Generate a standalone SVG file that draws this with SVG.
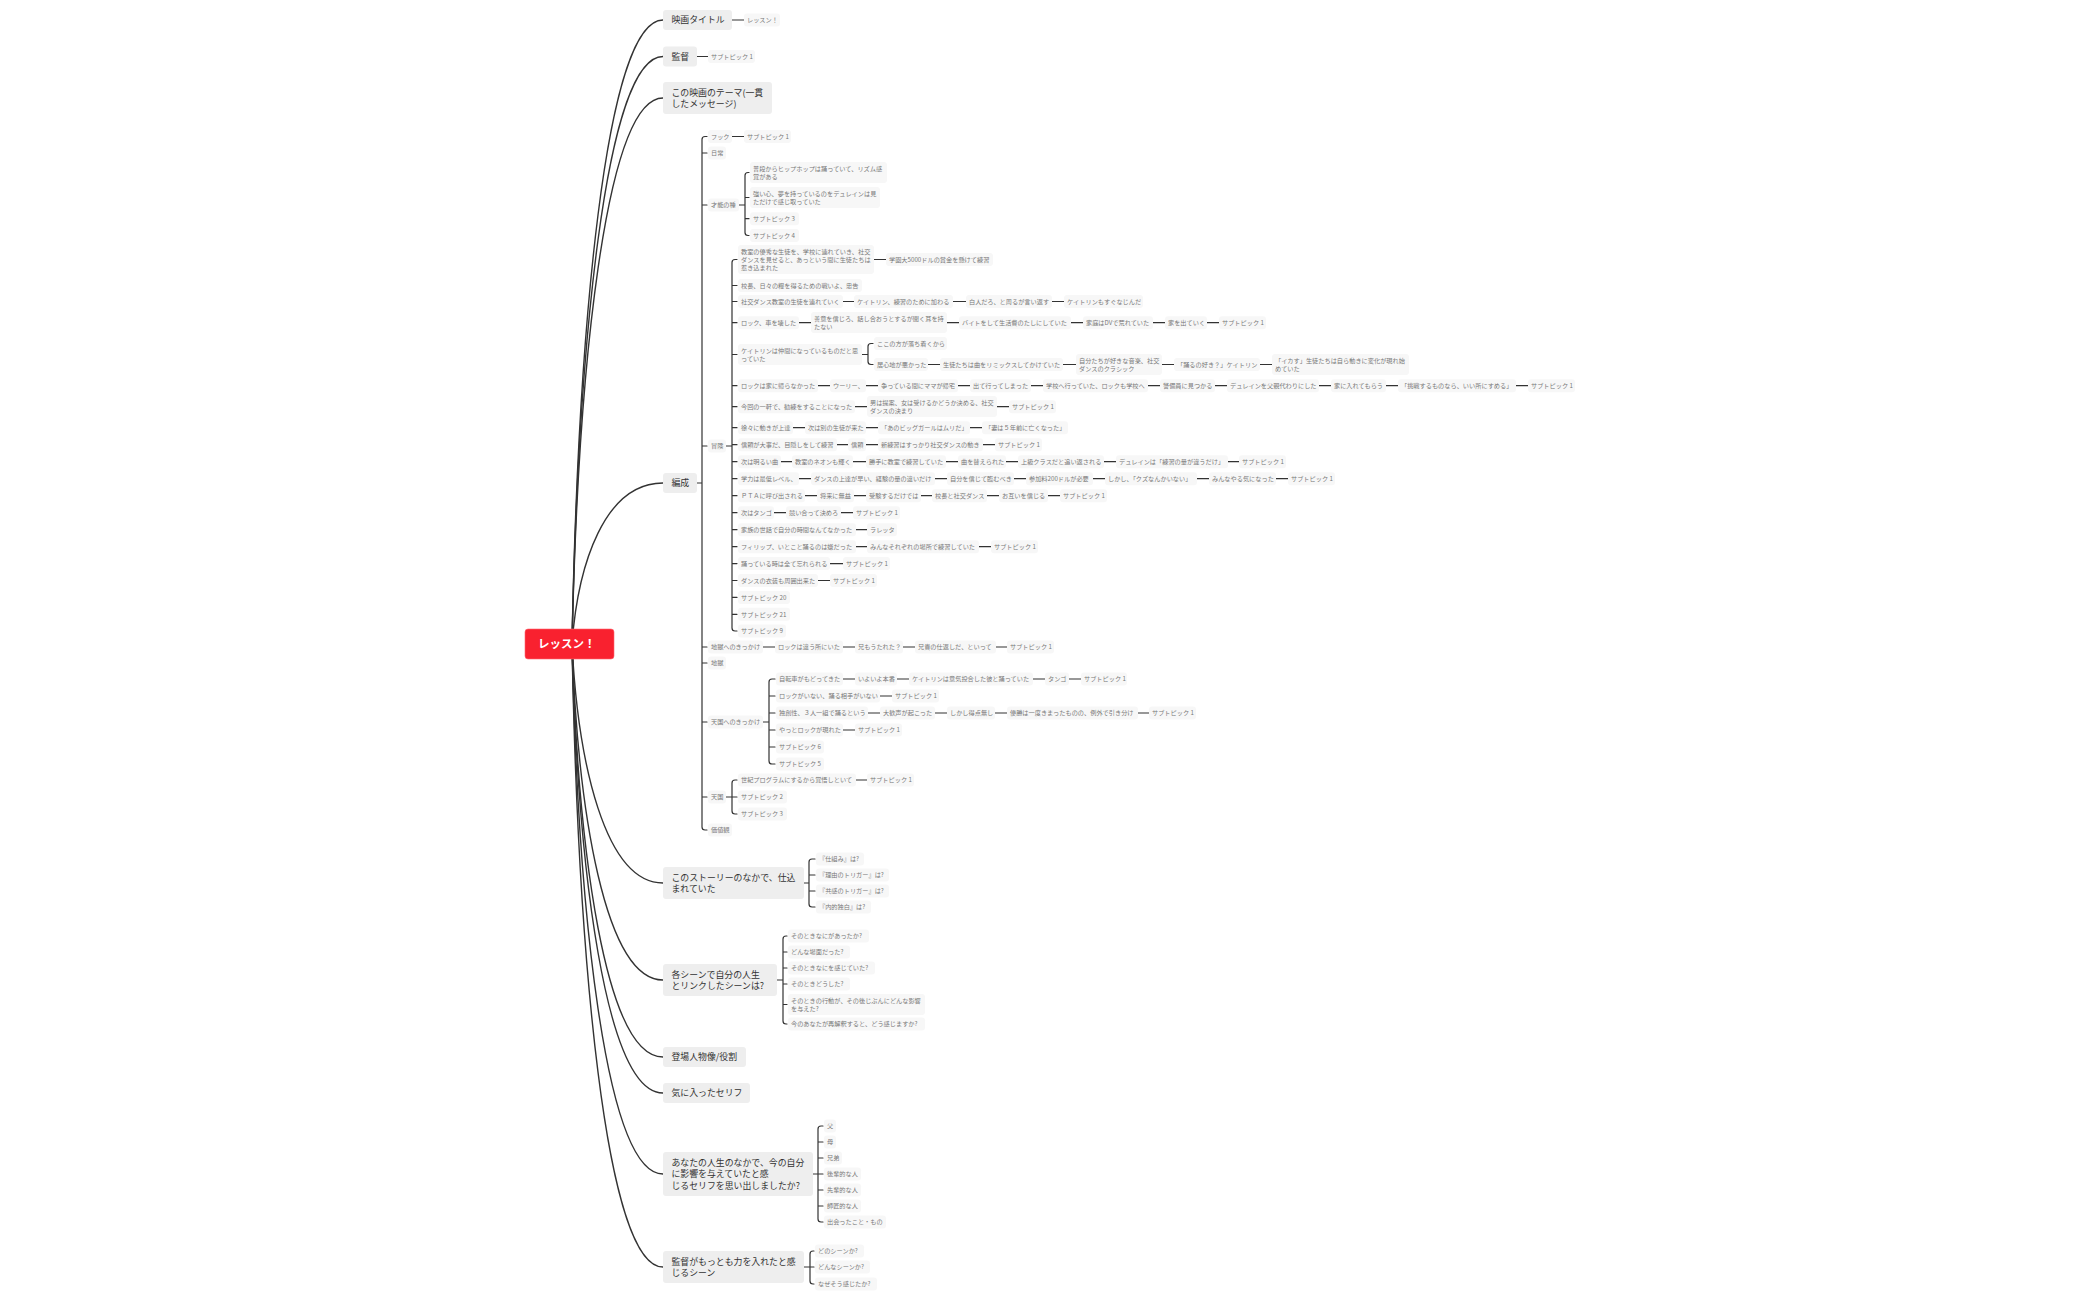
<svg xmlns="http://www.w3.org/2000/svg" width="2100" height="1300" viewBox="0 0 2100 1300">
<style>
text{font-family:"Noto Sans CJK JP","Noto Sans",sans-serif}
.c rect{fill:#f7f7f7}
.c text{font-size:6.2px;fill:#777}
.m rect{fill:#eeeeee}
.m text{font-size:8.9px;fill:#333}
#connectors path{fill:none;stroke:#333;stroke-width:1.2;stroke-linecap:round}
#connectors .t{stroke-width:1.4}
</style>
<rect width="2100" height="1300" fill="#ffffff"/>
<g id="connectors">
<path class="t" d="M572 644C578 332 605 20 663 20"/>
<path class="t" d="M572 644C578 350 605 56.500 663 56.500"/>
<path class="t" d="M572 644C578 371 605 98 663 98"/>
<path class="t" d="M572 644C578 563 605 483 663 483"/>
<path class="t" d="M572 644C578 763 605 883 663 883"/>
<path class="t" d="M572 644C578 812 605 980 663 980"/>
<path class="t" d="M572 644C578 850 605 1057 663 1057"/>
<path class="t" d="M572 644C578 868 605 1093 663 1093"/>
<path class="t" d="M572 644C578 909 605 1174 663 1174"/>
<path class="t" d="M572 644C578 955 605 1267 663 1267"/>
<path d="M732 20H744M697 56.500H708M732 136.500H744"/>
<path d="M697 483H702M707 136.500H705Q702 136.500 702 139.500V827Q702 830 705 830H707M702 153H707M702 205H707M702 446H707M702 647H707M702 663H707M702 722H707M702 797H707"/>
<path d="M739 205H745M749 172.500H748Q745 172.500 745 175.500V232.500Q745 235.500 748 235.500H749M745 197.500H749M745 218.700H749"/>
<path d="M726 446H732M737 259.500H735Q732 259.500 732 262.500V628Q732 631 735 631H737M732 285.500H737M732 301.500H737M732 322.700H737M732 354.500H737M732 385.700H737M732 406.700H737M732 427.700H737M732 444.700H737M732 461.700H737M732 478.700H737M732 495.700H737M732 512.700H737M732 529.700H737M732 546.700H737M732 563.600H737M732 580.500H737M732 597.400H737M732 614.300H737"/>
<path d="M874 259.500H886"/>
<path d="M843 301.500H854M953 301.500H966M1052 301.500H1064"/>
<path d="M799 322.700H811M947 322.700H959M1071 322.700H1083M1153 322.700H1165M1207 322.700H1219"/>
<path d="M862 354.500H868M873 343.500H871Q868 343.500 868 346.500V361.500Q868 364.500 871 364.500H873"/>
<path d="M928 364.500H940M1063 364.500H1076M1162 364.500H1174M1260 364.500H1272"/>
<path d="M818 385.700H830M866 385.700H878M958 385.700H970M1031 385.700H1043M1148 385.700H1160M1215 385.700H1227M1319 385.700H1331M1386 385.700H1398M1516 385.700H1528"/>
<path d="M855 406.700H867M997 406.700H1009"/>
<path d="M793 427.700H805M866 427.700H878M970 427.700H982"/>
<path d="M837 444.700H848M866 444.700H878M983 444.700H995"/>
<path d="M781 461.700H792M853 461.700H866M946 461.700H958M1006 461.700H1018M1104 461.700H1116M1228 461.700H1239"/>
<path d="M799 478.700H811M935 478.700H947M1014 478.700H1026M1093 478.700H1105M1197 478.700H1209M1276 478.700H1288"/>
<path d="M805 495.700H817M854 495.700H866M921 495.700H932M987 495.700H999M1048 495.700H1060"/>
<path d="M774 512.700H786M841 512.700H853"/>
<path d="M856 529.700H867"/>
<path d="M856 546.700H867M979 546.700H991"/>
<path d="M830 563.600H843"/>
<path d="M818 580.500H830"/>
<path d="M763 647H775M843 647H855M903 647H915M996 647H1007"/>
<path d="M763 722H769M775 679H772Q769 679 769 682V761Q769 764 772 764H775M769 696H775M769 713H775M769 730H775M769 747H775"/>
<path d="M843 679H855M897 679H909M1033 679H1045M1069 679H1081"/>
<path d="M880 696H892"/>
<path d="M868 713H880M935 713H947M995 713H1007M1138 713H1149"/>
<path d="M843 730H855"/>
<path d="M726 797H737M737 780H735Q732 780 732 783V811Q732 814 735 814H737"/>
<path d="M856 780H867"/>
<path d="M804 883H809M815 859H812Q809 859 809 862V904Q809 907 812 907H815M809 875H815M809 891H815"/>
<path d="M777 980H783M787 936H786Q783 936 783 939V1021Q783 1024 786 1024H787M783 952H787M783 968H787M783 984H787M783 1004.500H787"/>
<path d="M813 1174H818M823 1126H821Q818 1126 818 1129V1219Q818 1222 821 1222H823M818 1142H823M818 1158H823M818 1174H823M818 1190H823M818 1206H823"/>
<path d="M804 1267H810M814 1251H813Q810 1251 810 1254V1281Q810 1284 813 1284H814M810 1267H814"/>
</g>
<g id="root"><rect x="525" y="629" width="89" height="30" rx="3" fill="#f9212f" stroke="#ff6470" stroke-width="0.6"/><text x="538" y="648" font-size="11.500" font-weight="700" fill="#ffffff">レッスン！</text></g>
<g id="main-title" class="m"><rect x="663" y="10" width="69" height="20" rx="3"/><text x="671.500" y="23.200">映画タイトル</text></g>
<g id="main-director" class="m"><rect x="663" y="46.500" width="34" height="20" rx="3"/><text x="671.500" y="59.700">監督</text></g>
<g id="main-theme" class="m"><rect x="663" y="82" width="109" height="32" rx="3"/><text x="671.500" y="95.700">この映画のテーマ(一貫</text><text x="671.500" y="106.700">したメッセージ)</text></g>
<g id="main-structure" class="m"><rect x="663" y="473" width="34" height="20" rx="3"/><text x="671.500" y="486.200">編成</text></g>
<g id="main-story" class="m"><rect x="663" y="867" width="141" height="32" rx="3"/><text x="671.500" y="880.700">このストーリーのなかで、仕込</text><text x="671.500" y="891.700">まれていた</text></g>
<g id="main-scene" class="m"><rect x="663" y="964" width="114" height="32" rx="3"/><text x="671.500" y="977.700">各シーンで自分の人生</text><text x="671.500" y="988.700">とリンクしたシーンは?</text></g>
<g id="main-people" class="m"><rect x="663" y="1047" width="83" height="20" rx="3"/><text x="671.500" y="1060.200">登場人物像/役割</text></g>
<g id="main-lines" class="m"><rect x="663" y="1083" width="87" height="20" rx="3"/><text x="671.500" y="1096.200">気に入ったセリフ</text></g>
<g id="main-life" class="m"><rect x="663" y="1152" width="150" height="44" rx="3"/><text x="671.500" y="1166">あなたの人生のなかで、今の自分</text><text x="671.500" y="1177.300">に影響を与えていたと感</text><text x="671.500" y="1188.600">じるセリフを思い出しましたか?</text></g>
<g id="main-effort" class="m"><rect x="663" y="1251" width="141" height="32" rx="3"/><text x="671.500" y="1264.700">監督がもっとも力を入れたと感</text><text x="671.500" y="1275.700">じるシーン</text></g>

<g class="c" id="a1"><rect x="744" y="13.500" width="36" height="13" rx="3"/><text x="747" y="22.200">レッスン！</text></g>
<g class="c" id="a2"><rect x="708" y="50" width="47" height="13" rx="3"/><text x="711" y="58.700">サブトピック 1</text></g>
<g class="c" id="s1"><rect x="708" y="130" width="24" height="13" rx="3"/><text x="711" y="138.700">フック</text></g>
<g class="c" id="s1a"><rect x="744" y="130" width="47" height="13" rx="3"/><text x="747" y="138.700">サブトピック 1</text></g>
<g class="c" id="s2"><rect x="708" y="146.500" width="18" height="13" rx="3"/><text x="711" y="155.200">日常</text></g>
<g class="c" id="s3"><rect x="708" y="198.500" width="31" height="13" rx="3"/><text x="711" y="207.200">才能の種</text></g>
<g class="c" id="s3a"><rect x="750" y="162" width="137" height="21" rx="3"/><text x="753" y="170.700">普段からヒップホップは踊っていて、リズム感</text><text x="753" y="178.700">覚がある</text></g>
<g class="c" id="s3b"><rect x="750" y="187" width="130" height="21" rx="3"/><text x="753" y="195.700">強い心、夢を持っているのをデュレインは見</text><text x="753" y="203.700">ただけで感じ取っていた</text></g>
<g class="c" id="s3c"><rect x="750" y="212.200" width="49" height="13" rx="3"/><text x="753" y="220.900">サブトピック 3</text></g>
<g class="c" id="s3d"><rect x="750" y="229" width="49" height="13" rx="3"/><text x="753" y="237.700">サブトピック 4</text></g>
<g class="c" id="s4"><rect x="708" y="439.500" width="18" height="13" rx="3"/><text x="711" y="448.200">冒険</text></g>

<g class="c" id="b1"><rect x="738" y="245" width="136" height="29" rx="3"/><text x="741" y="253.700">教室の優秀な生徒を、学校に連れていき、社交</text><text x="741" y="261.700">ダンスを見せると、あっという間に生徒たちは</text><text x="741" y="269.700">惹き込まれた</text></g>
<g class="c" id="b1a"><rect x="886" y="253" width="107" height="13" rx="3"/><text x="889" y="261.700">学園大5000ドルの賞金を懸けて練習</text></g>
<g class="c" id="b2"><rect x="738" y="279" width="124" height="13" rx="3"/><text x="741" y="287.700">校長、日々の糧を得るための戦いよ、忠告</text></g>
<g class="c" id="b3"><rect x="738" y="295" width="105" height="13" rx="3"/><text x="741" y="303.700">社交ダンス教室の生徒を連れていく</text></g>
<g class="c" id="b3a"><rect x="854" y="295" width="99" height="13" rx="3"/><text x="857" y="303.700">ケイトリン、練習のために加わる</text></g>
<g class="c" id="b3b"><rect x="966" y="295" width="86" height="13" rx="3"/><text x="969" y="303.700">白人だろ、と周るが言い返す</text></g>
<g class="c" id="b3c"><rect x="1064" y="295" width="79" height="13" rx="3"/><text x="1067" y="303.700">ケイトリンもすぐなじんだ</text></g>
<g class="c" id="b4"><rect x="738" y="316.200" width="61" height="13" rx="3"/><text x="741" y="324.900">ロック、車を壊した</text></g>
<g class="c" id="b4a"><rect x="811" y="312" width="136" height="21" rx="3"/><text x="814" y="320.700">善意を信じろ、話し合おうとするが聞く耳を持</text><text x="814" y="328.700">たない</text></g>
<g class="c" id="b4b"><rect x="959" y="316.200" width="112" height="13" rx="3"/><text x="962" y="324.900">バイトをして生活費のたしにしていた</text></g>
<g class="c" id="b4c"><rect x="1083" y="316.200" width="70" height="13" rx="3"/><text x="1086" y="324.900">家庭はDVで荒れていた</text></g>
<g class="c" id="b4d"><rect x="1165" y="316.200" width="42" height="13" rx="3"/><text x="1168" y="324.900">家を出ていく</text></g>
<g class="c" id="b4e"><rect x="1219" y="316.200" width="47" height="13" rx="3"/><text x="1222" y="324.900">サブトピック 1</text></g>
<g class="c" id="b5"><rect x="738" y="344" width="124" height="21" rx="3"/><text x="741" y="352.700">ケイトリンは仲間になっているものだと思</text><text x="741" y="360.700">っていた</text></g>
<g class="c" id="b5a"><rect x="874" y="337" width="73" height="13" rx="3"/><text x="877" y="345.700">ここの方が落ち着くから</text></g>
<g class="c" id="b5b"><rect x="874" y="358" width="54" height="13" rx="3"/><text x="877" y="366.700">居心地が悪かった</text></g>
<g class="c" id="b5c"><rect x="940" y="358" width="123" height="13" rx="3"/><text x="943" y="366.700">生徒たちは曲をリミックスしてかけていた</text></g>
<g class="c" id="b5d"><rect x="1076" y="354" width="86" height="21" rx="3"/><text x="1079" y="362.700">自分たちが好きな音楽、社交</text><text x="1079" y="370.700">ダンスのクラシック</text></g>
<g class="c" id="b5e"><rect x="1174" y="358" width="86" height="13" rx="3"/><text x="1177" y="366.700">「踊るの好き？」ケイトリン</text></g>
<g class="c" id="b5f"><rect x="1272" y="354" width="137" height="21" rx="3"/><text x="1275" y="362.700">「イカす」生徒たちは自ら動きに変化が現れ始</text><text x="1275" y="370.700">めていた</text></g>
<g class="c" id="b6"><rect x="738" y="379.200" width="80" height="13" rx="3"/><text x="741" y="387.900">ロックは家に帰らなかった</text></g>
<g class="c" id="b6a"><rect x="830" y="379.200" width="36" height="13" rx="3"/><text x="833" y="387.900">ウーリー、</text></g>
<g class="c" id="b6b"><rect x="878" y="379.200" width="80" height="13" rx="3"/><text x="881" y="387.900">争っている間にママが帰宅</text></g>
<g class="c" id="b6c"><rect x="970" y="379.200" width="61" height="13" rx="3"/><text x="973" y="387.900">出て行ってしまった</text></g>
<g class="c" id="b6d"><rect x="1043" y="379.200" width="105" height="13" rx="3"/><text x="1046" y="387.900">学校へ行っていた、ロックも学校へ</text></g>
<g class="c" id="b6e"><rect x="1160" y="379.200" width="55" height="13" rx="3"/><text x="1163" y="387.900">警備員に見つかる</text></g>
<g class="c" id="b6f"><rect x="1227" y="379.200" width="92" height="13" rx="3"/><text x="1230" y="387.900">デュレインを父親代わりにした</text></g>
<g class="c" id="b6g"><rect x="1331" y="379.200" width="55" height="13" rx="3"/><text x="1334" y="387.900">家に入れてもらう</text></g>
<g class="c" id="b6h"><rect x="1398" y="379.200" width="118" height="13" rx="3"/><text x="1401" y="387.900">「挑戦するものなら、いい所にすめる」</text></g>
<g class="c" id="b6i"><rect x="1528" y="379.200" width="47" height="13" rx="3"/><text x="1531" y="387.900">サブトピック 1</text></g>
<g class="c" id="b7"><rect x="738" y="400.200" width="117" height="13" rx="3"/><text x="741" y="408.900">今回の一軒で、勧練をすることになった</text></g>
<g class="c" id="b7a"><rect x="867" y="396" width="130" height="21" rx="3"/><text x="870" y="404.700">男は提案、女は受けるかどうか決める、社交</text><text x="870" y="412.700">ダンスの決まり</text></g>
<g class="c" id="b7b"><rect x="1009" y="400.200" width="47" height="13" rx="3"/><text x="1012" y="408.900">サブトピック 1</text></g>
<g class="c" id="b8"><rect x="738" y="421.200" width="55" height="13" rx="3"/><text x="741" y="429.900">徐々に動きが上達</text></g>
<g class="c" id="b8a"><rect x="805" y="421.200" width="61" height="13" rx="3"/><text x="808" y="429.900">次は別の生徒が来た</text></g>
<g class="c" id="b8b"><rect x="878" y="421.200" width="92" height="13" rx="3"/><text x="881" y="429.900">「あのビッグガールはムリだ」</text></g>
<g class="c" id="b8c"><rect x="982" y="421.200" width="86" height="13" rx="3"/><text x="985" y="429.900">「妻は５年前に亡くなった」</text></g>
<g class="c" id="b9"><rect x="738" y="438.200" width="99" height="13" rx="3"/><text x="741" y="446.900">信頼が大事だ、目隠しをして練習</text></g>
<g class="c" id="b9a"><rect x="848" y="438.200" width="18" height="13" rx="3"/><text x="851" y="446.900">信頼</text></g>
<g class="c" id="b9b"><rect x="878" y="438.200" width="105" height="13" rx="3"/><text x="881" y="446.900">新練習はすっかり社交ダンスの動き</text></g>
<g class="c" id="b9c"><rect x="995" y="438.200" width="47" height="13" rx="3"/><text x="998" y="446.900">サブトピック 1</text></g>
<g class="c" id="b10"><rect x="738" y="455.200" width="43" height="13" rx="3"/><text x="741" y="463.900">次は明るい曲</text></g>
<g class="c" id="b10a"><rect x="792" y="455.200" width="61" height="13" rx="3"/><text x="795" y="463.900">教室のネオンも輝く</text></g>
<g class="c" id="b10b"><rect x="866" y="455.200" width="80" height="13" rx="3"/><text x="869" y="463.900">勝手に教室で練習していた</text></g>
<g class="c" id="b10c"><rect x="958" y="455.200" width="48" height="13" rx="3"/><text x="961" y="463.900">曲を替えられた</text></g>
<g class="c" id="b10d"><rect x="1018" y="455.200" width="86" height="13" rx="3"/><text x="1021" y="463.900">上級クラスだと追い返される</text></g>
<g class="c" id="b10e"><rect x="1116" y="455.200" width="112" height="13" rx="3"/><text x="1119" y="463.900">デュレインは「練習の量が違うだけ」</text></g>
<g class="c" id="b10f"><rect x="1239" y="455.200" width="47" height="13" rx="3"/><text x="1242" y="463.900">サブトピック 1</text></g>
<g class="c" id="b11"><rect x="738" y="472.200" width="61" height="13" rx="3"/><text x="741" y="480.900">学力は最低レベル、</text></g>
<g class="c" id="b11a"><rect x="811" y="472.200" width="124" height="13" rx="3"/><text x="814" y="480.900">ダンスの上達が早い、経験の量の違いだけ</text></g>
<g class="c" id="b11b"><rect x="947" y="472.200" width="67" height="13" rx="3"/><text x="950" y="480.900">自分を信じて臨むべき</text></g>
<g class="c" id="b11c"><rect x="1026" y="472.200" width="67" height="13" rx="3"/><text x="1029" y="480.900">参加料200ドルが必要</text></g>
<g class="c" id="b11d"><rect x="1105" y="472.200" width="92" height="13" rx="3"/><text x="1108" y="480.900">しかし、「クズなんかいない」</text></g>
<g class="c" id="b11e"><rect x="1209" y="472.200" width="67" height="13" rx="3"/><text x="1212" y="480.900">みんなやる気になった</text></g>
<g class="c" id="b11f"><rect x="1288" y="472.200" width="47" height="13" rx="3"/><text x="1291" y="480.900">サブトピック 1</text></g>
<g class="c" id="b12"><rect x="738" y="489.200" width="67" height="13" rx="3"/><text x="741" y="497.900">ＰＴＡに呼び出される</text></g>
<g class="c" id="b12a"><rect x="817" y="489.200" width="37" height="13" rx="3"/><text x="820" y="497.900">将来に無益</text></g>
<g class="c" id="b12b"><rect x="866" y="489.200" width="55" height="13" rx="3"/><text x="869" y="497.900">受験するだけでは</text></g>
<g class="c" id="b12c"><rect x="932" y="489.200" width="55" height="13" rx="3"/><text x="935" y="497.900">校長と社交ダンス</text></g>
<g class="c" id="b12d"><rect x="999" y="489.200" width="49" height="13" rx="3"/><text x="1002" y="497.900">お互いを信じる</text></g>
<g class="c" id="b12e"><rect x="1060" y="489.200" width="47" height="13" rx="3"/><text x="1063" y="497.900">サブトピック 1</text></g>
<g class="c" id="b13"><rect x="738" y="506.200" width="36" height="13" rx="3"/><text x="741" y="514.900">次はタンゴ</text></g>
<g class="c" id="b13a"><rect x="786" y="506.200" width="55" height="13" rx="3"/><text x="789" y="514.900">競い合って決めろ</text></g>
<g class="c" id="b13b"><rect x="853" y="506.200" width="47" height="13" rx="3"/><text x="856" y="514.900">サブトピック 1</text></g>
<g class="c" id="b14"><rect x="738" y="523.200" width="118" height="13" rx="3"/><text x="741" y="531.900">家族の世話で自分の時間なんてなかった</text></g>
<g class="c" id="b14a"><rect x="867" y="523.200" width="30" height="13" rx="3"/><text x="870" y="531.900">ラレッタ</text></g>
<g class="c" id="b15"><rect x="738" y="540.200" width="118" height="13" rx="3"/><text x="741" y="548.900">フィリップ、いとこと踊るのは嫌だった</text></g>
<g class="c" id="b15a"><rect x="867" y="540.200" width="112" height="13" rx="3"/><text x="870" y="548.900">みんなそれぞれの場所で練習していた</text></g>
<g class="c" id="b15b"><rect x="991" y="540.200" width="47" height="13" rx="3"/><text x="994" y="548.900">サブトピック 1</text></g>
<g class="c" id="b16"><rect x="738" y="557.100" width="92" height="13" rx="3"/><text x="741" y="565.800">踊っている時は全て忘れられる</text></g>
<g class="c" id="b16a"><rect x="843" y="557.100" width="47" height="13" rx="3"/><text x="846" y="565.800">サブトピック 1</text></g>
<g class="c" id="b17"><rect x="738" y="574" width="80" height="13" rx="3"/><text x="741" y="582.700">ダンスの衣装も周囲出来た</text></g>
<g class="c" id="b17a"><rect x="830" y="574" width="47" height="13" rx="3"/><text x="833" y="582.700">サブトピック 1</text></g>
<g class="c" id="b18"><rect x="738" y="590.900" width="52" height="13" rx="3"/><text x="741" y="599.600">サブトピック 20</text></g>
<g class="c" id="b19"><rect x="738" y="607.800" width="52" height="13" rx="3"/><text x="741" y="616.500">サブトピック 21</text></g>
<g class="c" id="b20"><rect x="738" y="624.500" width="48" height="13" rx="3"/><text x="741" y="633.200">サブトピック 9</text></g>

<g class="c" id="h1"><rect x="708" y="640.500" width="55" height="13" rx="3"/><text x="711" y="649.200">地獄へのきっかけ</text></g>
<g class="c" id="h1a"><rect x="775" y="640.500" width="68" height="13" rx="3"/><text x="778" y="649.200">ロックは違う所にいた</text></g>
<g class="c" id="h1b"><rect x="855" y="640.500" width="48" height="13" rx="3"/><text x="858" y="649.200">兄もうたれた？</text></g>
<g class="c" id="h1c"><rect x="915" y="640.500" width="81" height="13" rx="3"/><text x="918" y="649.200">兄貴の仕返しだ、といって</text></g>
<g class="c" id="h1d"><rect x="1007" y="640.500" width="47" height="13" rx="3"/><text x="1010" y="649.200">サブトピック 1</text></g>
<g class="c" id="h2"><rect x="708" y="656.500" width="18" height="13" rx="3"/><text x="711" y="665.200">地獄</text></g>
<g class="c" id="t0"><rect x="708" y="715.500" width="55" height="13" rx="3"/><text x="711" y="724.200">天国へのきっかけ</text></g>
<g class="c" id="t1"><rect x="776" y="672.500" width="67" height="13" rx="3"/><text x="779" y="681.200">自転車がもどってきた</text></g>
<g class="c" id="t1a"><rect x="855" y="672.500" width="42" height="13" rx="3"/><text x="858" y="681.200">いよいよ本番</text></g>
<g class="c" id="t1b"><rect x="909" y="672.500" width="124" height="13" rx="3"/><text x="912" y="681.200">ケイトリンは意気投合した彼と踊っていた</text></g>
<g class="c" id="t1c"><rect x="1045" y="672.500" width="24" height="13" rx="3"/><text x="1048" y="681.200">タンゴ</text></g>
<g class="c" id="t1d"><rect x="1081" y="672.500" width="46" height="13" rx="3"/><text x="1084" y="681.200">サブトピック 1</text></g>
<g class="c" id="t2"><rect x="776" y="689.500" width="104" height="13" rx="3"/><text x="779" y="698.200">ロックがいない、踊る相手がいない</text></g>
<g class="c" id="t2a"><rect x="892" y="689.500" width="47" height="13" rx="3"/><text x="895" y="698.200">サブトピック 1</text></g>
<g class="c" id="t3"><rect x="776" y="706.500" width="92" height="13" rx="3"/><text x="779" y="715.200">独創性、３人一組で踊るという</text></g>
<g class="c" id="t3a"><rect x="880" y="706.500" width="55" height="13" rx="3"/><text x="883" y="715.200">大歓声が起こった</text></g>
<g class="c" id="t3b"><rect x="947" y="706.500" width="48" height="13" rx="3"/><text x="950" y="715.200">しかし得点無し</text></g>
<g class="c" id="t3c"><rect x="1007" y="706.500" width="131" height="13" rx="3"/><text x="1010" y="715.200">優勝は一度きまったものの、例外で引き分け</text></g>
<g class="c" id="t3d"><rect x="1149" y="706.500" width="47" height="13" rx="3"/><text x="1152" y="715.200">サブトピック 1</text></g>
<g class="c" id="t4"><rect x="776" y="723.500" width="67" height="13" rx="3"/><text x="779" y="732.200">やっとロックが現れた</text></g>
<g class="c" id="t4a"><rect x="855" y="723.500" width="47" height="13" rx="3"/><text x="858" y="732.200">サブトピック 1</text></g>
<g class="c" id="t5"><rect x="776" y="740.500" width="48" height="13" rx="3"/><text x="779" y="749.200">サブトピック 6</text></g>
<g class="c" id="t6"><rect x="776" y="757.500" width="48" height="13" rx="3"/><text x="779" y="766.200">サブトピック 5</text></g>
<g class="c" id="g0"><rect x="708" y="790.500" width="18" height="13" rx="3"/><text x="711" y="799.200">天国</text></g>
<g class="c" id="g1"><rect x="738" y="773.500" width="118" height="13" rx="3"/><text x="741" y="782.200">世紀プログラムにするから覚悟しといて</text></g>
<g class="c" id="g1a"><rect x="867" y="773.500" width="47" height="13" rx="3"/><text x="870" y="782.200">サブトピック 1</text></g>
<g class="c" id="g2"><rect x="738" y="790.500" width="49" height="13" rx="3"/><text x="741" y="799.200">サブトピック 2</text></g>
<g class="c" id="g3"><rect x="738" y="807.500" width="49" height="13" rx="3"/><text x="741" y="816.200">サブトピック 3</text></g>
<g class="c" id="v0"><rect x="708" y="823.500" width="24" height="13" rx="3"/><text x="711" y="832.200">価値観</text></g>

<g class="c" id="q1"><rect x="816" y="852.500" width="48" height="13" rx="3"/><text x="819" y="861.200">『仕組み』は?</text></g>
<g class="c" id="q2"><rect x="816" y="868.500" width="73" height="13" rx="3"/><text x="819" y="877.200">『理由のトリガー』は?</text></g>
<g class="c" id="q3"><rect x="816" y="884.500" width="73" height="13" rx="3"/><text x="819" y="893.200">『共感のトリガー』は?</text></g>
<g class="c" id="q4"><rect x="816" y="900.500" width="55" height="13" rx="3"/><text x="819" y="909.200">『内的独白』は?</text></g>
<g class="c" id="r1"><rect x="788" y="929.500" width="81" height="13" rx="3"/><text x="791" y="938.200">そのときなにがあったか?</text></g>
<g class="c" id="r2"><rect x="788" y="945.500" width="62" height="13" rx="3"/><text x="791" y="954.200">どんな場面だった?</text></g>
<g class="c" id="r3"><rect x="788" y="961.500" width="87" height="13" rx="3"/><text x="791" y="970.200">そのときなにを感じていた?</text></g>
<g class="c" id="r4"><rect x="788" y="977.500" width="62" height="13" rx="3"/><text x="791" y="986.200">そのときどうした?</text></g>
<g class="c" id="r5"><rect x="788" y="994" width="137" height="21" rx="3"/><text x="791" y="1002.700">そのときの行動が、その後じぶんにどんな影響</text><text x="791" y="1010.700">を与えた?</text></g>
<g class="c" id="r6"><rect x="788" y="1017.500" width="137" height="13" rx="3"/><text x="791" y="1026.200">今のあなたが再解釈すると、どう感じますか?</text></g>
<g class="c" id="p1"><rect x="824" y="1119.500" width="12" height="13" rx="3"/><text x="827" y="1128.200">父</text></g>
<g class="c" id="p2"><rect x="824" y="1135.500" width="12" height="13" rx="3"/><text x="827" y="1144.200">母</text></g>
<g class="c" id="p3"><rect x="824" y="1151.500" width="18" height="13" rx="3"/><text x="827" y="1160.200">兄弟</text></g>
<g class="c" id="p4"><rect x="824" y="1167.500" width="37" height="13" rx="3"/><text x="827" y="1176.200">後輩的な人</text></g>
<g class="c" id="p5"><rect x="824" y="1183.500" width="37" height="13" rx="3"/><text x="827" y="1192.200">先輩的な人</text></g>
<g class="c" id="p6"><rect x="824" y="1199.500" width="37" height="13" rx="3"/><text x="827" y="1208.200">師匠的な人</text></g>
<g class="c" id="p7"><rect x="824" y="1215.500" width="62" height="13" rx="3"/><text x="827" y="1224.200">出会ったこと・もの</text></g>
<g class="c" id="k1"><rect x="815" y="1244.500" width="49" height="13" rx="3"/><text x="818" y="1253.200">どのシーンか?</text></g>
<g class="c" id="k2"><rect x="815" y="1260.500" width="55" height="13" rx="3"/><text x="818" y="1269.200">どんなシーンか?</text></g>
<g class="c" id="k3"><rect x="815" y="1277.500" width="62" height="13" rx="3"/><text x="818" y="1286.200">なぜそう感じたか?</text></g>
</svg>
